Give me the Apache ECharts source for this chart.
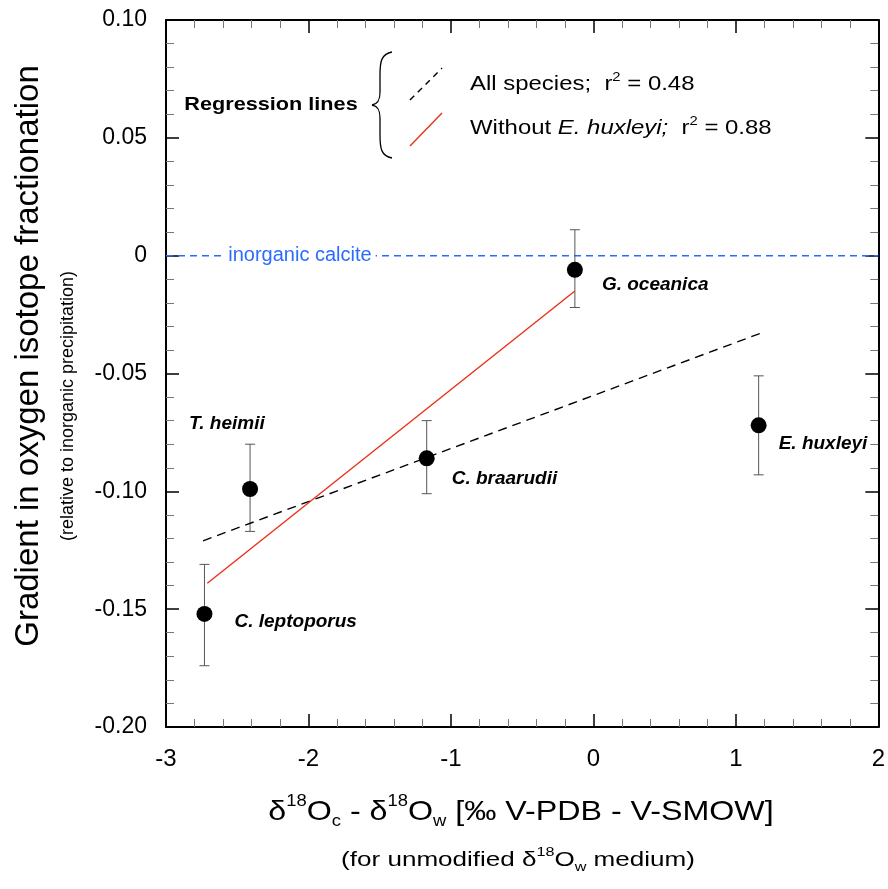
<!DOCTYPE html>
<html>
<head>
<meta charset="utf-8">
<script src="https://cdn.jsdelivr.net/npm/echarts@6/dist/echarts.min.js"></script>
<style>
  html, body { margin: 0; padding: 0; background: #fff; }
  #chart { width: 888px; height: 889px; }
</style>
</head>
<body>
<div id="chart"></div>
<script>
// species data
var speciesNames = ['C. leptoporus', 'T. heimii', 'C. braarudii', 'G. oceanica', 'E. huxleyi'];
var speciesX = [-2.73, -2.41, -1.17, -0.13, 1.16];
var speciesY = [-0.152, -0.099, -0.086, -0.006, -0.072];
var errLow = [-0.174, -0.117, -0.101, -0.022, -0.093];
var errHigh = [-0.131, -0.080, -0.070, 0.011, -0.051];

// regression line end points
var allSpeciesLine = [[-2.74, -0.121], [1.17, -0.033]];
var withoutEhuxLine = [[-2.71, -0.139], [-0.13, -0.015]];

// reference line
var inorganicY = 0;
var inorganicLabelX = -2.06;

// axis ranges
var xRange = [-3, 2, 1];
var yRange = [-0.20, 0.10, 0.05];

// label offsets (left edge, vertical middle) from point centre
var labelOffsets = [[30, 8], [-61, -65], [25, 20], [27, 15], [20, 18]];

var FONT = "'Liberation Sans', Arial, sans-serif";
var RED = '#e8311a';
var BLUE = '#2b6bff';
var STRETCH = 1.14;

var myChart = echarts.init(document.getElementById('chart'));

var pointData = speciesNames.map(function (n, i) {
    return {
        name: n,
        value: [speciesX[i], speciesY[i]],
        label: { offset: labelOffsets[i] }
    };
});
var errData = speciesNames.map(function (n, i) {
    return [speciesX[i], errLow[i], errHigh[i]];
});

function axisX(show) {
    return {
        type: 'value', min: xRange[0], max: xRange[1], interval: xRange[2],
        position: show ? 'bottom' : 'top',
        axisLine: { show: true, onZero: false, lineStyle: { color: '#000', width: 2 } },
        axisTick: { show: true, inside: true, length: 13, lineStyle: { color: '#000', width: 1.5 } },
        minorTick: { show: true, splitNumber: 5, length: 8, lineStyle: { color: '#777', width: 1 } },
        splitLine: { show: false },
        axisLabel: {
            show: show, margin: 20, color: '#000', fontSize: 24, fontFamily: FONT
        }
    };
}
function axisY(show) {
    return {
        type: 'value', min: yRange[0], max: yRange[1], interval: yRange[2],
        position: show ? 'left' : 'right',
        axisLine: { show: true, onZero: false, lineStyle: { color: '#000', width: 2 } },
        axisTick: { show: true, inside: true, length: 13, lineStyle: { color: '#000', width: 1.5 } },
        minorTick: { show: true, splitNumber: 5, length: 8, lineStyle: { color: '#777', width: 1 } },
        splitLine: { show: false },
        axisLabel: {
            show: show, margin: 19, color: '#000', fontSize: 23, fontFamily: FONT,
            formatter: function (v) { return Math.abs(v) < 1e-9 ? '0' : v.toFixed(2); }
        }
    };
}

// curly brace pieces
var braceStyle = { fill: 'none', stroke: '#000', lineWidth: 1.3 };
var brace = [
    { type: 'bezierCurve', shape: { x1: 392, y1: 52, cpx1: 381, cpy1: 54, cpx2: 380, cpy2: 62, x2: 380, y2: 75 } },
    { type: 'line', shape: { x1: 380, y1: 75, x2: 380, y2: 92 } },
    { type: 'bezierCurve', shape: { x1: 380, y1: 92, cpx1: 380, cpy1: 100, cpx2: 378, cpy2: 104, x2: 372, y2: 105 } },
    { type: 'bezierCurve', shape: { x1: 372, y1: 105, cpx1: 378, cpy1: 106, cpx2: 380, cpy2: 110, x2: 380, y2: 118 } },
    { type: 'line', shape: { x1: 380, y1: 118, x2: 380, y2: 135 } },
    { type: 'bezierCurve', shape: { x1: 380, y1: 135, cpx1: 380, cpy1: 148, cpx2: 381, cpy2: 156, x2: 392, y2: 158 } }
].map(function (g) { g.style = braceStyle; return g; });

var option = {
    animation: false,
    backgroundColor: '#fff',
    grid: { left: 166, right: 8, top: 20, bottom: 162 },
    xAxis: [axisX(true), axisX(false)],
    yAxis: [axisY(true), axisY(false)],
    series: [
        {
            name: 'inorganic line',
            type: 'line',
            symbol: 'none',
            z: 1,
            color: BLUE,
            data: [[xRange[0], inorganicY], [xRange[1], inorganicY]],
            lineStyle: { color: BLUE, type: [7, 5], width: 1.5 }
        },
        {
            name: 'inorganic calcite',
            type: 'scatter',
            symbolSize: 0,
            z: 5,
            itemStyle: { opacity: 1 },
            data: [[inorganicLabelX, inorganicY]],
            label: {
                show: true, position: 'inside', formatter: 'inorganic calcite',
                color: BLUE, fontSize: 20, fontFamily: FONT,
                backgroundColor: '#fff', padding: [0, 4]
            }
        },
        {
            name: 'All species',
            type: 'line',
            symbol: 'none',
            data: allSpeciesLine,
            lineStyle: { color: '#000', width: 1.4, type: [9, 6] }
        },
        {
            name: 'Without E. huxleyi',
            type: 'line',
            symbol: 'none',
            data: withoutEhuxLine,
            lineStyle: { color: RED, width: 1.4 }
        },
        {
            name: 'error',
            type: 'custom',
            data: errData,
            z: 3,
            renderItem: function (params, api) {
                var x = api.value(0);
                var lo = api.coord([x, api.value(1)]);
                var hi = api.coord([x, api.value(2)]);
                var w = 5;
                var st = { stroke: '#555', lineWidth: 1 };
                return {
                    type: 'group',
                    children: [
                        { type: 'line', shape: { x1: lo[0], y1: lo[1], x2: hi[0], y2: hi[1] }, style: st },
                        { type: 'line', shape: { x1: lo[0] - w, y1: lo[1], x2: lo[0] + w, y2: lo[1] }, style: st },
                        { type: 'line', shape: { x1: hi[0] - w, y1: hi[1], x2: hi[0] + w, y2: hi[1] }, style: st }
                    ]
                };
            }
        },
        {
            name: 'species',
            type: 'scatter',
            symbolSize: 16,
            z: 4,
            itemStyle: { color: '#000', opacity: 1 },
            data: pointData,
            label: {
                show: true, position: 'inside', align: 'left', verticalAlign: 'middle',
                formatter: '{b}', color: '#000', fontSize: 19, fontWeight: 'bold',
                fontStyle: 'italic', fontFamily: FONT
            }
        }
    ],
    graphic: [
        {
            type: 'text', x: 29, y: 356, rotation: Math.PI / 2,
            style: {
                text: 'Gradient in oxygen isotope fractionation',
                font: '33px ' + FONT, fill: '#000', align: 'center', verticalAlign: 'middle'
            }
        },
        {
            type: 'text', x: 68, y: 406, rotation: Math.PI / 2,
            style: {
                text: '(relative to inorganic precipitation)',
                font: '18px ' + FONT, fill: '#000', align: 'center', verticalAlign: 'middle'
            }
        },
        {
            type: 'text', x: 521, y: 812, scaleX: 1.15,
            style: {
                text: '{n|δ}{p|18}{n|O}{b|c}{n| - δ}{p|18}{n|O}{b|w}{n| [‰ V-PDB - V-SMOW]}',
                align: 'center', verticalAlign: 'middle', fill: '#000',
                rich: {
                    n: { fontSize: 28, fontFamily: FONT, lineHeight: 36 },
                    p: { fontSize: 16, fontFamily: FONT, lineHeight: 16, verticalAlign: 'top' },
                    b: { fontSize: 16, fontFamily: FONT, lineHeight: 14, verticalAlign: 'bottom' }
                }
            }
        },
        {
            type: 'text', x: 518, y: 860, scaleX: 1.24,
            style: {
                text: '{n|(for unmodified δ}{p|18}{n|O}{b|w}{n| medium)}',
                align: 'center', verticalAlign: 'middle', fill: '#000',
                rich: {
                    n: { fontSize: 21, fontFamily: FONT, lineHeight: 28 },
                    p: { fontSize: 13, fontFamily: FONT, lineHeight: 13, verticalAlign: 'top' },
                    b: { fontSize: 13, fontFamily: FONT, lineHeight: 11, verticalAlign: 'bottom' }
                }
            }
        },
        // legend block
        {
            type: 'text', x: 271, y: 105, scaleX: STRETCH,
            style: {
                text: 'Regression lines', font: 'bold 19px ' + FONT, fill: '#000',
                align: 'center', verticalAlign: 'middle'
            }
        }
    ].concat(brace).concat([
        {
            type: 'line', shape: { x1: 410, y1: 100, x2: 442, y2: 68 },
            style: { stroke: '#000', lineWidth: 1.4, lineDash: [6, 5] }
        },
        {
            type: 'line', shape: { x1: 410, y1: 146, x2: 442, y2: 113 },
            style: { stroke: RED, lineWidth: 1.4 }
        },
        {
            type: 'text', x: 470, y: 84, scaleX: STRETCH,
            style: {
                text: '{n|All species;  r}{p|2}{n| = 0.48}', align: 'left', verticalAlign: 'middle', fill: '#000',
                rich: {
                    n: { fontSize: 21, fontFamily: FONT, lineHeight: 26 },
                    p: { fontSize: 13, fontFamily: FONT, lineHeight: 13, verticalAlign: 'top' }
                }
            }
        },
        {
            type: 'text', x: 470, y: 128, scaleX: STRETCH,
            style: {
                text: '{n|Without }{i|E. huxleyi;}{n|  r}{p|2}{n| = 0.88}', align: 'left', verticalAlign: 'middle',
                rich: {
                    n: { fontSize: 21, fontFamily: FONT, lineHeight: 26, color: RED },
                    i: { fontSize: 21, fontFamily: FONT, fontStyle: 'italic', lineHeight: 26, color: RED },
                    p: { fontSize: 13, fontFamily: FONT, lineHeight: 13, verticalAlign: 'top', color: RED }
                }
            }
        }
    ])
};

myChart.setOption(option);
</script>
</body>
</html>
